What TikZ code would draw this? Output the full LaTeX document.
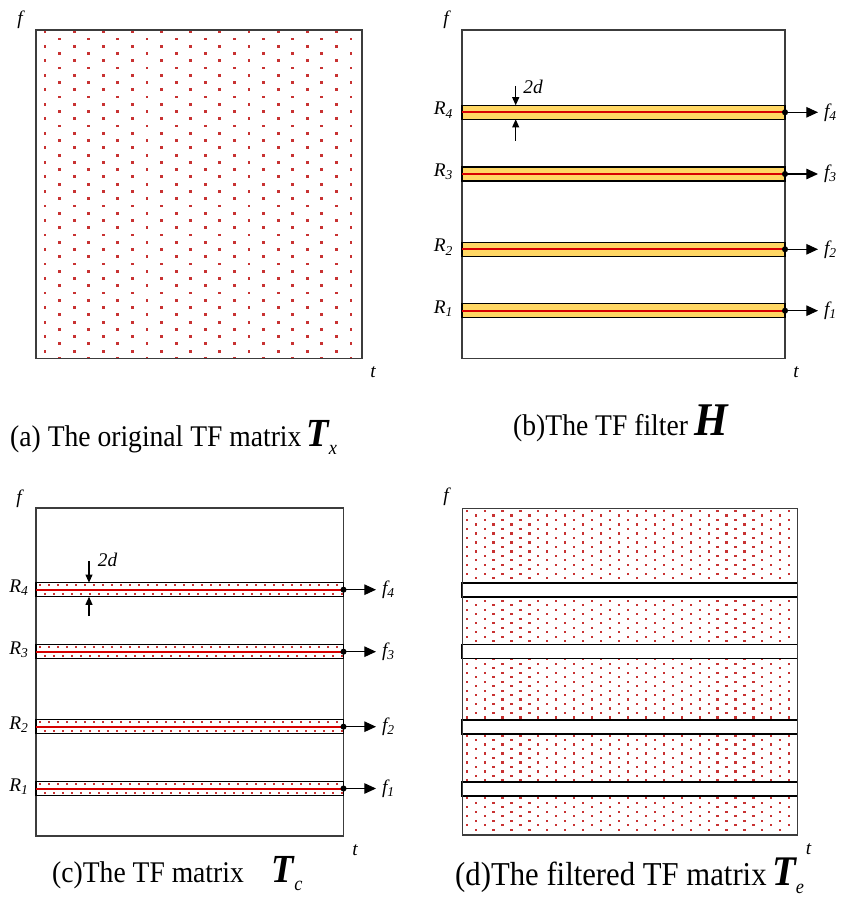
\documentclass[tikz,border=0pt]{standalone}
\usepackage{fontspec}
\setmainfont{Liberation Serif}
\newfontfamily\capfont[FakeStretch=0.92]{Liberation Serif}
\usetikzlibrary{
	arrows.meta,
	positioning
}

\definecolor{dotred}{RGB}{200,50,50}
\definecolor{bandyellow}{RGB}{255,215,100}
\definecolor{linered}{RGB}{215,0,0}
\definecolor{framegray}{RGB}{60,60,60}

\newcommand{\capsize}{\capfont\fontsize{25.6}{30}\selectfont}
\newcommand{\mtxsym}[3][34]{{\fontsize{#1}{38}\selectfont\bfseries\itshape #2}\raisebox{-7pt}{\fontsize{17}{20}\selectfont\itshape #3}}

\begin{document}
\begin{tikzpicture}[
			x=0.03cm, y=-0.03cm,
			lbl/.style={font=\fontsize{16.5}{19}\selectfont\itshape, inner sep=2pt},
			capnode/.style={font=\capsize, anchor=base west, inner sep=0pt},
			tfframe/.style={draw=framegray, line width=1.2pt},
			hband/.style={draw=black, line width=1.3pt, minimum height=0.42cm, inner sep=0pt, outer sep=0pt},
			redline/.style={draw=linered, line width=1.7pt},
			fout/.style={-{Triangle[length=10pt,width=9pt]}, line width=1pt},
			dimarr/.style={-{Triangle[length=7pt,width=6pt]}, line width=1pt},
			tfdot/.style={fill=dotred}
		]
		\useasboundingbox (0,0) rectangle (852,906);

		% (a) original TF matrix
		\begin{scope}
			\clip (36,30) rectangle (362,358.5);
			\foreach \k in {0,...,45}{
				\pgfmathtruncatemacro{\p}{mod(\k,2)}
				\foreach \j in {0,...,10}
					\fill[tfdot] ({45+14.57*(2*\j+\p)-1.4},{31.7+7.26*\k-1.4}) rectangle ++(2.8,2.8);
			}
		\end{scope}
		\draw[tfframe] (36,30) rectangle (362,358.5);
		\node[lbl] (fa) at (20,20) {f};
		\node[lbl] (ta) at (373,372) {t};
		\node[capnode] (capA) at (10,446) {(a) The original TF matrix\,\mtxsym{T}{x}};

		% (b) TF filter
		\draw[tfframe] (462,30) rectangle (785,358.5);
		\foreach \n/\yb in {1/310.7, 2/249.3, 3/174, 4/112.3}{
			\node[hband, fill=bandyellow, minimum width=9.69cm] (H\n) at (623.5,\yb) {};
			\draw[redline] (H\n.west) -- (H\n.east);
			\fill (H\n.east) circle (2.6pt);
			\node[lbl, anchor=base east] (rH\n) at (455.5,\yb+2.7) {R\textsubscript{\n}};
			\node[lbl, anchor=west, inner xsep=5pt] (fH\n) at (818,\yb) {f\textsubscript{\n}};
			\draw[fout] (H\n.east) -- (fH\n.west);
		}
		\coordinate (b2da) at (515.7,86);
		\coordinate (b2db) at (515.7,141);
		\draw[dimarr] (b2da) -- (b2da |- H4.north);
		\draw[dimarr] (b2db) -- (b2db |- H4.south);
		\node[lbl] (b2d) at (533,87) {2d};
		\node[lbl] (fb) at (446,20) {f};
		\node[lbl] (tb) at (796,372) {t};
		\node[capnode] (capB) at (513,435) {(b)The TF filter \mtxsym[40]{H}{}};

		% (c) TF matrix after filtering bands
		\draw[tfframe] (36,508) rectangle (343.5,836);
		\foreach \n/\yb in {1/788.5, 2/726.7, 3/651.7, 4/589.7}{
			\node[hband, fill=white, minimum width=9.225cm] (C\n) at (189.75,\yb) {};
			\foreach \j in {0,...,33}{
				\fill[tfdot] ({40+9*\j-1},{\yb-4.3-1}) rectangle ++(2,2);
				\fill[tfdot] ({44.5+9*\j-1},{\yb+4.3-1}) rectangle ++(2,2);
			}
			\draw[redline] (C\n.west) -- (C\n.east);
			\fill (C\n.east) circle (2.6pt);
			\node[lbl, anchor=base east] (rC\n) at (31,\yb+2.7) {R\textsubscript{\n}};
			\node[lbl, anchor=west, inner xsep=5pt] (fC\n) at (376,\yb) {f\textsubscript{\n}};
			\draw[fout] (C\n.east) -- (fC\n.west);
		}
		\coordinate (c2da) at (89,561);
		\coordinate (c2db) at (89,616);
		\draw[dimarr] (c2da) -- (c2da |- C4.north);
		\draw[dimarr] (c2db) -- (c2db |- C4.south);
		\node[lbl] (c2d) at (107.5,560) {2d};
		\node[lbl] (fc) at (19,499) {f};
		\node[lbl] (tc) at (355,850) {t};
		\node[capnode] (capC) at (52,882) {(c)The TF matrix\hspace{24pt}\mtxsym{T}{c}};

		% (d) filtered TF matrix
		\begin{scope}
			\clip (462.3,508.3) rectangle (797.5,835);
			\foreach \k in {0,...,71}{
				\pgfmathtruncatemacro{\p}{mod(\k,2)}
				\foreach \j in {0,...,18}
					\fill[tfdot] ({466.7+8.96*(2*\j+\p)-1.1},{511+4.49*\k-1.1}) rectangle ++(2.2,2.2);
			}
		\end{scope}
		\foreach \n/\yb in {1/788.6, 2/726.7, 3/651.5, 4/589.7}
			\node[hband, fill=white, line width=1.6pt, minimum width=10.056cm] (D\n) at (629.9,\yb) {};
		\draw[tfframe] (462.3,508.3) rectangle (797.5,835);
		\node[lbl] (fd) at (446,497) {f};
		\node[lbl] (td) at (808.5,849) {t};
		\node[capnode, font=\capfont\fontsize{28.5}{32}\selectfont] (capD) at (455,885) {(d)The filtered TF matrix\,\mtxsym[36]{T}{e}};
	\end{tikzpicture}
\end{document}
